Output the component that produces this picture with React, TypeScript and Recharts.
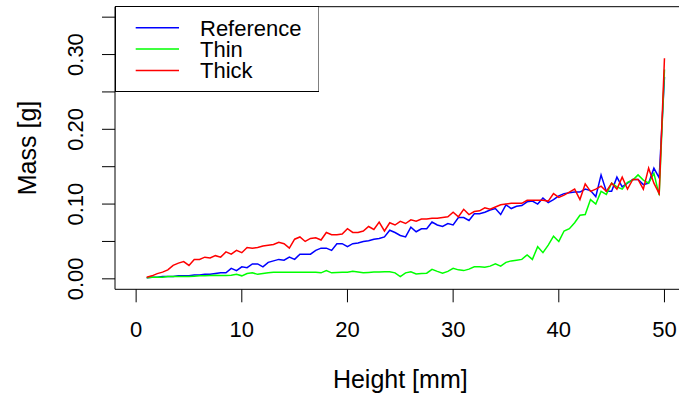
import React from "react";
import {
  LineChart,
  Line,
  XAxis,
  YAxis,
  ReferenceArea,
  Legend,
} from "recharts";

// Height positions along the sample [mm]
const HEIGHTS = [
  1, 1.5, 2, 2.5, 3, 3.5, 4, 4.5, 5, 5.5, 6, 6.5, 7, 7.5, 8, 8.5, 9, 9.5, 10,
  10.5, 11, 11.5, 12, 12.5, 13, 13.5, 14, 14.5, 15, 15.5, 16, 16.5, 17, 17.5,
  18, 18.5, 19, 19.5, 20, 20.5, 21, 21.5, 22, 22.5, 23, 23.5, 24, 24.5, 25,
  25.5, 26, 26.5, 27, 27.5, 28, 28.5, 29, 29.5, 30, 30.5, 31, 31.5, 32, 32.5,
  33, 33.5, 34, 34.5, 35, 35.5, 36, 36.5, 37, 37.5, 38, 38.5, 39, 39.5, 40,
  40.5, 41, 41.5, 42, 42.5, 43, 43.5, 44, 44.5, 45, 45.5, 46, 46.5, 47, 47.5,
  48, 48.5, 49, 49.5, 50,
];

// Mass [g] per slice
const REFERENCE = [
  0.0015, 0.002, 0.002, 0.003, 0.003, 0.003, 0.004, 0.004, 0.004, 0.005, 0.005,
  0.006, 0.006, 0.007, 0.008, 0.008, 0.014, 0.011, 0.016, 0.015, 0.02, 0.02,
  0.016, 0.022, 0.024, 0.026, 0.025, 0.029, 0.026, 0.033, 0.033, 0.033, 0.038,
  0.041, 0.041, 0.038, 0.047, 0.047, 0.043, 0.047, 0.048, 0.05, 0.051, 0.053,
  0.054, 0.056, 0.065, 0.062, 0.058, 0.056, 0.069, 0.063, 0.067, 0.067, 0.076,
  0.072, 0.07, 0.074, 0.072, 0.082, 0.082, 0.078, 0.087, 0.087, 0.089, 0.092,
  0.094, 0.086, 0.099, 0.094, 0.097, 0.098, 0.103, 0.104, 0.1, 0.108, 0.102,
  0.106, 0.111, 0.114, 0.115, 0.116, 0.116, 0.12, 0.118, 0.11, 0.139, 0.117,
  0.117, 0.136, 0.123, 0.128, 0.133, 0.133, 0.126, 0.128, 0.148, 0.135, 0.27,
];

const THIN = [
  0.0015, 0.002, 0.002, 0.002, 0.003, 0.003, 0.003, 0.003, 0.003, 0.0035,
  0.004, 0.004, 0.0045, 0.0047, 0.0043, 0.0045, 0.0047, 0.006, 0.004, 0.007,
  0.008, 0.006, 0.007, 0.008, 0.0087, 0.0087, 0.0087, 0.0088, 0.0088, 0.0087,
  0.0088, 0.0087, 0.0087, 0.008, 0.011, 0.008, 0.0085, 0.0087, 0.0087, 0.01,
  0.009, 0.008, 0.0085, 0.009, 0.009, 0.0095, 0.0096, 0.008, 0.003, 0.008,
  0.0095, 0.0065, 0.007, 0.0075, 0.0127, 0.01, 0.0075, 0.01, 0.014, 0.012,
  0.011, 0.013, 0.016, 0.016, 0.0155, 0.017, 0.02, 0.017, 0.022, 0.024, 0.025,
  0.026, 0.032, 0.026, 0.043, 0.035, 0.045, 0.057, 0.05, 0.064, 0.067, 0.075,
  0.085, 0.086, 0.106, 0.1, 0.117, 0.113, 0.128, 0.123, 0.12, 0.129, 0.132,
  0.139, 0.132, 0.128, 0.141, 0.112, 0.28,
];

const THICK = [
  0.002, 0.004, 0.007, 0.009, 0.012, 0.018, 0.021, 0.023, 0.018, 0.026, 0.026,
  0.029, 0.028, 0.031, 0.029, 0.036, 0.033, 0.038, 0.035, 0.042, 0.041, 0.042,
  0.044, 0.045, 0.046, 0.049, 0.047, 0.041, 0.053, 0.056, 0.05, 0.054, 0.055,
  0.052, 0.062, 0.059, 0.059, 0.06, 0.067, 0.062, 0.062, 0.064, 0.07, 0.066,
  0.076, 0.064, 0.075, 0.072, 0.077, 0.074, 0.079, 0.077, 0.08, 0.08, 0.081,
  0.081, 0.082, 0.083, 0.089, 0.083, 0.093, 0.086, 0.09, 0.091, 0.095, 0.093,
  0.096, 0.099, 0.1, 0.101, 0.101, 0.101, 0.105, 0.105, 0.105, 0.105, 0.104,
  0.114, 0.109, 0.112, 0.116, 0.12, 0.106, 0.127, 0.117, 0.12, 0.124, 0.117,
  0.128, 0.12, 0.136, 0.12, 0.133, 0.133, 0.12, 0.148, 0.128, 0.114, 0.295,
];

const SERIES = [
  { key: "reference", name: "Reference", color: "#0000ff", values: REFERENCE },
  { key: "thin", name: "Thin", color: "#00ff00", values: THIN },
  { key: "thick", name: "Thick", color: "#ff0000", values: THICK },
];

const X_TICKS = [0, 10, 20, 30, 40, 50];
const Y_TICKS = [0, 0.05, 0.1, 0.15, 0.2, 0.25, 0.3, 0.35];

const X_DOMAIN: [number, number] = [-2, 52];
const Y_DOMAIN: [number, number] = [-0.014, 0.364];

const FONT = '"Liberation Sans", Arial, Helvetica, sans-serif';
const PLOT_LEFT = 115;
const PLOT_TOP = 6.7;
const PLOT_BOTTOM = 289.3;
const CHART_W = 700;
const CHART_H = 399;

const data = HEIGHTS.map((h, i) => ({
  height: h,
  reference: REFERENCE[i],
  thin: THIN[i],
  thick: THICK[i],
}));

function XTick(props: any) {
  const { x, payload } = props;
  return (
    <text
      x={x}
      y={PLOT_BOTTOM + 47.5}
      textAnchor="middle"
      fontSize={22}
      fontFamily={FONT}
      fill="#000"
    >
      {payload.value}
    </text>
  );
}

function YTick(props: any) {
  const { y, payload } = props;
  const v = payload.value as number;
  // R drops every other label here since they would overlap
  if (Math.round(v * 100) % 10 !== 0) return <g />;
  const bx = 83.5;
  return (
    <text
      x={bx}
      y={y}
      transform={`rotate(-90, ${bx}, ${y})`}
      textAnchor="middle"
      fontSize={22}
      fontFamily={FONT}
      fill="#000"
    >
      {v.toFixed(2)}
    </text>
  );
}

function LegendBox() {
  const w = 203.5;
  const h = 85;
  return (
    <svg width={w + 1} height={h + 1} style={{ display: "block" }}>
      <rect
        x={0.5}
        y={0.5}
        width={w}
        height={h}
        fill="#fff"
        stroke="#000"
        strokeWidth={1}
      />
      {SERIES.map((s, i) => {
        const ly = 21.8 + i * 21.3;
        return (
          <g key={s.key}>
            <line
              x1={20.7}
              x2={64}
              y1={ly}
              y2={ly}
              stroke={s.color}
              strokeWidth={1.5}
            />
            <text
              x={85}
              y={ly + 8}
              fontSize={22}
              fontFamily={FONT}
              fill="#000"
            >
              {s.name}
            </text>
          </g>
        );
      })}
    </svg>
  );
}

export default function App() {
  return (
    <div
      style={{
        position: "fixed",
        left: 0,
        top: 0,
        width: 679,
        height: 399,
        overflow: "hidden",
        background: "#fff",
      }}
    >
      <LineChart
        width={CHART_W}
        height={CHART_H}
        data={data}
        margin={{ top: PLOT_TOP, right: 14.4, bottom: 0, left: 0 }}
      >
        <XAxis
          type="number"
          dataKey="height"
          domain={X_DOMAIN}
          ticks={X_TICKS}
          allowDataOverflow
          axisLine={false}
          tickLine={{ stroke: "#000", strokeWidth: 1 }}
          tickSize={13}
          tick={<XTick />}
          height={CHART_H - PLOT_BOTTOM}
          label={{
            content: () => (
              <text
                x={400.3}
                y={388.3}
                textAnchor="middle"
                fontSize={25}
                fontFamily={FONT}
                fill="#000"
              >
                Height [mm]
              </text>
            ),
          }}
        />
        <YAxis
          type="number"
          domain={Y_DOMAIN}
          ticks={Y_TICKS}
          allowDataOverflow
          axisLine={false}
          tickLine={{ stroke: "#000", strokeWidth: 1 }}
          tickSize={13}
          tick={<YTick />}
          width={PLOT_LEFT}
          label={{
            content: () => (
              <text
                x={36}
                y={148}
                transform="rotate(-90, 36, 148)"
                textAnchor="middle"
                fontSize={25}
                fontFamily={FONT}
                fill="#000"
              >
                Mass [g]
              </text>
            ),
          }}
        />
        {SERIES.map((s) => (
          <Line
            key={s.key}
            type="linear"
            dataKey={s.key}
            name={s.name}
            stroke={s.color}
            strokeWidth={1.5}
            dot={false}
            isAnimationActive={false}
          />
        ))}
        <ReferenceArea
          x1={X_DOMAIN[0]}
          x2={X_DOMAIN[1]}
          y1={Y_DOMAIN[0]}
          y2={Y_DOMAIN[1]}
          fill="none"
          fillOpacity={0}
          stroke="#000"
          strokeWidth={1}
          ifOverflow="visible"
        />
        <Legend
          layout="vertical"
          align="center"
          verticalAlign="middle"
          wrapperStyle={{ left: PLOT_LEFT - 0.5, top: PLOT_TOP - 0.5, width: "auto" }}
          content={() => <LegendBox />}
        />
      </LineChart>
    </div>
  );
}
